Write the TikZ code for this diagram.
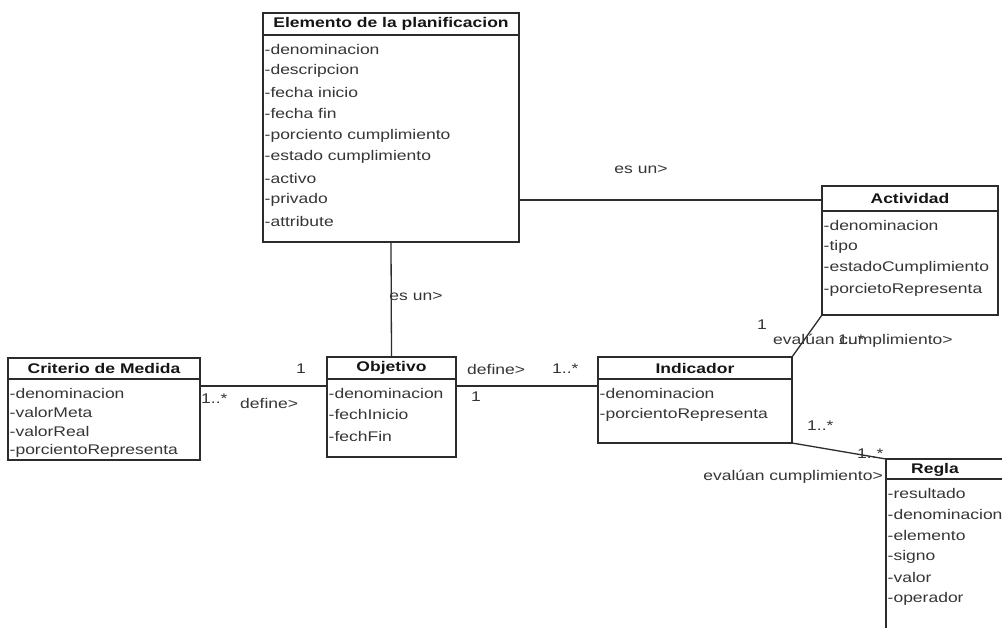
\documentclass[tikz,border=0pt]{standalone}
\usepackage{fontspec}
\setmainfont[FakeStretch=1.25]{Liberation Sans}
\usetikzlibrary{calc}
\definecolor{linec}{HTML}{2C2C2C}
\definecolor{attrc}{HTML}{363636}
\definecolor{titlec}{HTML}{151515}

% \umlclass{name}{x}{y}{width}{height}{header height}{row pitch}{title}{attributes}
\newcommand{\umlclass}[9]{%
  \node[classbox, minimum width=#4, minimum height=#5, anchor=north west] (#1) at (#2,#3) {};
  \draw[classline] ($(#1.north west)+(0,#6)$) -- ($(#1.north east)+(0,#6)$);
  \node[ttl] (#1-title) at ($(#1.north)+(0,{#6/2})$) {#8};
  \foreach \a [count=\i] in {#9}
    \node[attr] (#1-a\i) at ($(#1.north west)+(1.5,{#6+14+#7*(\i-1)})$) {\a};
}

\begin{document}
\begin{tikzpicture}[x=1pt, y=-1pt,
    font=\fontsize{14}{16}\selectfont,
    classbox/.style={draw=linec, line width=1.3pt, rectangle, inner sep=0pt, outer sep=0pt, fill=white},
    classline/.style={draw=linec, line width=1.3pt},
    assoc/.style={draw=linec, line width=1.3pt},
    ttl/.style={font=\fontsize{14}{16}\selectfont\bfseries, text=titlec, inner sep=0pt},
    attr/.style={anchor=west, text=attrc, inner sep=0pt},
    lbl/.style={text=attrc, inner sep=0pt}]
\useasboundingbox (0,0) rectangle (1002,627);
\clip (0,0) rectangle (1002,627);
\fill[white] (0,0) rectangle (1002,627);

% heights of the horizontal associations
\coordinate (yA) at (0,200);
\coordinate (yB) at (0,386);

\umlclass{elem}{263}{13}{256}{229}{22}{21.6}{Elemento de la planificacion}%
  {-denominacion,-descripcion,-fecha inicio,-fecha fin,-porciento cumplimiento,-estado cumplimiento,-activo,-privado,-attribute}
\umlclass{act}{822}{186}{176}{129}{25}{21.6}{Actividad}%
  {-denominacion,-tipo,-estadoCumplimiento,-porcietoRepresenta}
\umlclass{crit}{8}{358}{192}{102}{21}{19.3}{Criterio de Medida}%
  {-denominacion,-valorMeta,-valorReal,-porcientoRepresenta}
\umlclass{obj}{327}{357}{129}{100}{22}{21.6}{Objetivo}%
  {-denominacion,-fechInicio,-fechFin}
\umlclass{ind}{598}{357}{194}{86}{22}{21.6}{Indicador}%
  {-denominacion,-porcientoRepresenta}
\umlclass{regla}{886}{459}{130}{190}{20}{21.2}{}%
  {-resultado,-denominacion,-elemento,-signo,-valor,-operador}
\node[ttl] (regla-name) at (935,470) {Regla};

% associations
\draw[assoc] (elem.south) -- (obj.north);
\draw[assoc] (elem.east |- yA) -- (act.west |- yA);
\draw[assoc] (crit.east |- yB) -- (obj.west |- yB);
\draw[assoc] (obj.east |- yB) -- (ind.west |- yB);
\draw[assoc] (ind.north east) -- (act.south west);
\draw[assoc] (ind.south east) -- (regla.north west);

% association names and multiplicities
\node[lbl] (l1) at (416,296) {es un>};
\node[lbl] (l2) at (641,169) {es un>};
\node[lbl] (m1) at (301,369) {1};
\node[lbl, anchor=west] (m2) at (201,399) {1..*};
\node[lbl, anchor=west] (l3) at (240,403) {define>};
\node[lbl, anchor=west] (l4) at (467,369) {define>};
\node[lbl, anchor=west] (m3) at (552,369) {1..*};
\node[lbl] (m4) at (476,397) {1};
\node[lbl] (m5) at (762,325) {1};
\node[lbl, anchor=west] (l5) at (773,341) {evalúan cumplimiento>};
\node[lbl, anchor=west] (m6) at (838,340) {1..*};
\node[lbl, anchor=west] (m7) at (807,426) {1..*};
\node[lbl, anchor=west] (m8) at (857,454) {1..*};
\node[lbl, anchor=east] (l6) at (883,477) {evalúan cumplimiento>};
\end{tikzpicture}
\end{document}
